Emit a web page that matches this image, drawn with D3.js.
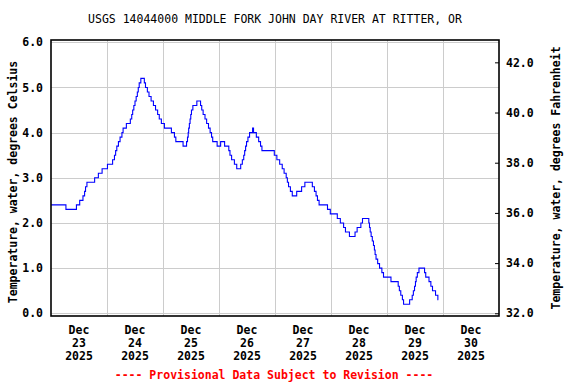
<!DOCTYPE html>
<html>
<head>
<meta charset="utf-8">
<script src="https://cdn.jsdelivr.net/npm/d3@7"></script>
<style>
  html, body { margin: 0; padding: 0; background: #fff; }
  svg { display: block; }
  text { font-family: "DejaVu Sans Mono", "Liberation Mono", monospace; }
</style>
</head>
<body>
<svg id="chart" width="576" height="384"></svg>
<script>
// ---- data ----
const title = "USGS 14044000 MIDDLE FORK JOHN DAY RIVER AT RITTER, OR";
const yLabelLeft = "Temperature, water, degrees Celsius";
const yLabelRight = "Temperature, water, degrees Fahrenheit";
const footnote = "---- Provisional Data Subject to Revision ----";
const startTime = "2025-12-23T00:00:00";
const endTime = "2025-12-31T00:00:00";
const dayLabels = ["23", "24", "25", "26", "27", "28", "29", "30"];
const monthLabel = "Dec";
const yearLabel = "2025";
const celsiusTicks = [0, 1, 2, 3, 4, 5, 6];
const fahrenheitTicks = [32, 34, 36, 38, 40, 42];
// hours since start (start of each reading level) and temperature in deg C
const hoursSinceStart = [0, 6.4, 10.9, 12.3, 13.7, 14.4, 14.8, 15.4, 18.7, 20.3, 21.9, 24.2, 26.4, 27.2, 27.7, 28.2, 28.9, 29.6, 30.4, 30.9,
  32.3, 34.0, 34.6, 35.0, 35.5, 36.0, 36.5, 37.0, 37.4, 37.8, 38.5, 40.0, 40.5, 41.3, 42.0, 42.9, 43.9, 44.8, 45.7,
  46.4, 47.3, 48.6, 51.6, 52.9, 53.5, 56.6, 58.1, 58.5, 58.8, 59.0, 59.3, 59.6, 59.9, 60.2, 60.8, 62.5, 64.1, 64.6,
  65.2, 66.0, 66.7, 67.5, 68.2, 68.8, 69.3, 71.2, 72.7, 74.4, 76.2, 76.7, 77.4, 78.6, 79.6, 81.3, 82.0, 82.6, 83.0,
  83.4, 83.8, 84.4, 85.1, 86.4, 86.8, 88.0, 89.0, 89.8, 90.4, 95.7, 96.8, 98.0, 99.1, 99.9, 100.8, 101.3, 101.8,
  102.6, 103.4, 105.3, 107.4, 108.8, 112.0, 112.9, 113.6, 114.2, 114.9, 118.5, 119.7, 122.7, 124.0, 125.4, 126.2,
  127.9, 130.3, 131.2, 132.8, 133.5, 136.2, 136.5, 136.8, 137.2, 137.7, 138.2, 138.6, 138.9, 139.3, 140.0, 140.8,
  141.8, 142.5, 145.7, 148.8, 149.3, 149.9, 150.6, 151.1, 153.7, 154.8, 155.3, 155.8, 156.2, 156.5, 157.0, 157.7,
  160.1, 160.6, 162.0, 162.8, 163.5, 164.8, 165.8, 166.0];
const tempC = [2.4, 2.3, 2.4, 2.5, 2.6, 2.7, 2.8, 2.9, 3.0, 3.1, 3.2, 3.3, 3.4, 3.5, 3.6, 3.7, 3.8, 3.9, 4.0, 4.1,
  4.2, 4.3, 4.4, 4.5, 4.6, 4.7, 4.8, 4.9, 5.0, 5.1, 5.2, 5.1, 5.0, 4.9, 4.8, 4.7, 4.6, 4.5, 4.4,
  4.3, 4.2, 4.1, 4.0, 3.9, 3.8, 3.7, 3.8, 3.9, 4.0, 4.1, 4.2, 4.3, 4.4, 4.5, 4.6, 4.7, 4.6, 4.5,
  4.4, 4.3, 4.2, 4.1, 4.0, 3.9, 3.8, 3.7, 3.8, 3.7, 3.6, 3.5, 3.4, 3.3, 3.2, 3.3, 3.4, 3.5, 3.6,
  3.7, 3.8, 3.9, 4.0, 4.1, 4.0, 3.9, 3.8, 3.7, 3.6, 3.5, 3.4, 3.3, 3.2, 3.1, 3.0, 2.9, 2.8,
  2.7, 2.6, 2.7, 2.8, 2.9, 2.8, 2.7, 2.6, 2.5, 2.4, 2.3, 2.2, 2.1, 2.0, 1.9, 1.8,
  1.7, 1.8, 1.9, 2.0, 2.1, 2.0, 1.9, 1.8, 1.7, 1.6, 1.5, 1.4, 1.3, 1.2, 1.1, 1.0,
  0.9, 0.8, 0.7, 0.6, 0.5, 0.4, 0.3, 0.2, 0.3, 0.4, 0.5, 0.6, 0.7, 0.8, 0.9, 1.0,
  0.9, 0.8, 0.7, 0.6, 0.5, 0.4, 0.3, 0.3];

// ---- layout ----
const svg = d3.select("#chart");
const plot = { left: 51, right: 499, top: 40, bottom: 316 };
const t0 = new Date(startTime), t1 = new Date(endTime);
const HOUR = 3600 * 1000;
const data = hoursSinceStart.map((h, i) => ({ t: new Date(t0.getTime() + h * HOUR), v: tempC[i] }));

const x = d3.scaleTime().domain([t0, t1]).range([plot.left, plot.right]);
const y = d3.scaleLinear().domain([-0.06, 6.05]).range([plot.bottom, plot.top]);
const c2f = c => c * 1.8 + 32;
const yF = d3.scaleLinear().domain(y.domain().map(c2f)).range([plot.bottom, plot.top]);

// gridlines
const days = d3.timeDay.range(d3.timeDay.offset(t0, 1), t1);
svg.append("g").selectAll("line").data(days).join("line")
  .attr("x1", d => Math.round(x(d)) + 0.5).attr("x2", d => Math.round(x(d)) + 0.5)
  .attr("y1", plot.top).attr("y2", plot.bottom)
  .attr("stroke", "#cccccc").attr("stroke-width", 1);
svg.append("g").selectAll("line").data(celsiusTicks).join("line")
  .attr("x1", plot.left).attr("x2", plot.right)
  .attr("y1", d => Math.round(y(d)) + 0.5).attr("y2", d => Math.round(y(d)) + 0.5)
  .attr("stroke", "#cccccc").attr("stroke-width", 1);

// data line
svg.append("path").datum(data)
  .attr("fill", "none").attr("stroke", "#0000ff").attr("stroke-width", 1.1)
  .attr("d", d3.line().curve(d3.curveStepAfter).x(d => x(d.t)).y(d => y(d.v)));

// frame
svg.append("rect")
  .attr("x", plot.left).attr("y", plot.top)
  .attr("width", plot.right - plot.left).attr("height", plot.bottom - plot.top)
  .attr("fill", "none").attr("stroke", "#000").attr("stroke-width", 1.6);

// left axis
const axL = svg.append("g").attr("transform", `translate(${plot.left},0)`)
  .call(d3.axisLeft(y).tickValues(celsiusTicks).tickFormat(d3.format(".1f")).tickSize(0).tickPadding(8));
axL.select(".domain").remove();
axL.selectAll("text").style("font-family", '"DejaVu Sans Mono", monospace')
  .style("font-size", "11.5px").style("font-weight", "bold").attr("fill", "#000");

// right axis
const axR = svg.append("g").attr("transform", `translate(${plot.right},0)`)
  .call(d3.axisRight(yF).tickValues(fahrenheitTicks).tickFormat(d3.format(".1f")).tickSize(-4).tickPadding(7));
axR.select(".domain").remove();
axR.selectAll("line").attr("stroke", "#000");
axR.selectAll("text").style("font-family", '"DejaVu Sans Mono", monospace')
  .style("font-size", "11.5px").style("font-weight", "bold").attr("fill", "#000");

// bottom labels (centered at noon of each day)
const noons = d3.timeDay.range(t0, t1).map(d => d3.timeHour.offset(d, 12));
const xl = svg.append("g").selectAll("text").data(noons).join("text")
  .attr("text-anchor", "middle").style("font-size", "11.5px").style("font-weight", "bold");
xl.append("tspan").attr("x", d => x(d)).attr("y", 334).text(monthLabel);
xl.append("tspan").attr("x", d => x(d)).attr("y", 347).text((d, i) => dayLabels[i]);
xl.append("tspan").attr("x", d => x(d)).attr("y", 360).text(yearLabel);

// title
svg.append("text").attr("x", 275).attr("y", 23).attr("text-anchor", "middle")
  .style("font-size", "11.5px").text(title);

// axis titles
svg.append("text").attr("transform", `translate(17,${(plot.top + plot.bottom) / 2 + 4}) rotate(-90)`)
  .attr("text-anchor", "middle").style("font-size", "11.5px").style("font-weight", "bold").text(yLabelLeft);
svg.append("text").attr("transform", `translate(560,${(plot.top + plot.bottom) / 2}) rotate(-90)`)
  .attr("text-anchor", "middle").style("font-size", "11.5px").style("font-weight", "bold").text(yLabelRight);

// footnote
svg.append("text").attr("x", 274).attr("y", 379).attr("text-anchor", "middle")
  .style("font-size", "11.5px").style("font-weight", "bold").attr("fill", "#ff0000").text(footnote);
</script>
</body>
</html>
